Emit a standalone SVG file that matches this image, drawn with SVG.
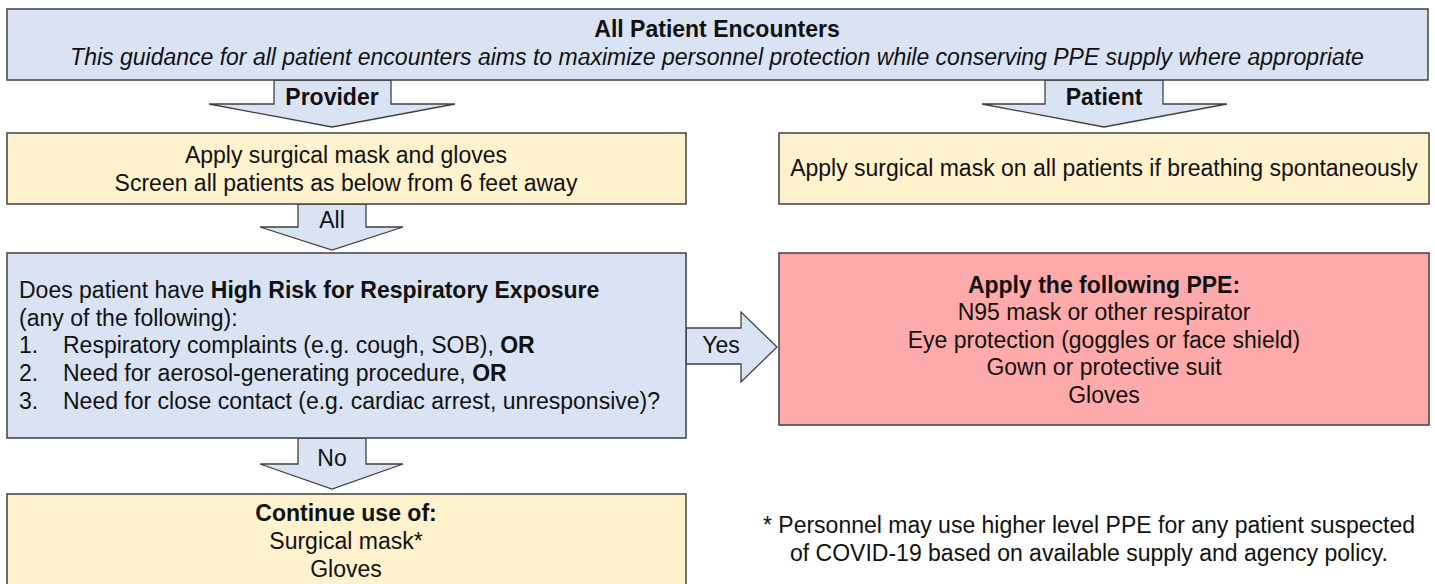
<svg xmlns="http://www.w3.org/2000/svg" width="1435" height="584" viewBox="0 0 1435 584">
<style>
.box{stroke:#404040;stroke-width:1.5}
.blue{fill:#dae3f3}
.yel{fill:#fff2cc}
.red{fill:#ffaaaa}
.arr{fill:#dae3f3;stroke:#404040;stroke-width:1.3;stroke-linejoin:miter}
text{font-family:"Liberation Sans",Arial,sans-serif;font-size:23px;fill:#111}
.c{text-anchor:middle}
.b{font-weight:bold}
.i{font-style:italic}
</style>
<rect width="1435" height="584" fill="#ffffff"/>
<g id="connectors">
<polygon class="arr" points="274,80 391,80 391,104 455,104 332,127 209,104 274,104"/>
<polygon class="arr" points="1045,80 1163,80 1163,104 1227,104 1104,127 982,104 1045,104"/>
<polygon class="arr" points="298,204 366,204 366,227 403,227 332,250 260,227 298,227"/>
<polygon class="arr" points="686,328 741,328 741,312 777,347 741,382 741,364 686,364"/>
<polygon class="arr" points="298,438 366,438 366,464 403,464 332,489 260,464 298,464"/>
<text class="c b" x="332" y="105">Provider</text>
<text class="c b" x="1104" y="105">Patient</text>
<text class="c" x="332" y="228">All</text>
<text class="c" x="721" y="353">Yes</text>
<text class="c" x="332" y="466">No</text>
</g>
<g id="top">
<rect class="box blue" x="7" y="9" width="1421" height="71"/>
<text class="c b" x="717" y="37">All Patient Encounters</text>
<text class="c i" x="717" y="65">This guidance for all patient encounters aims to maximize personnel protection while conserving PPE supply where appropriate</text>
</g>
<g id="provider">
<rect class="box yel" x="7" y="133" width="679" height="71"/>
<text class="c" x="346" y="163">Apply surgical mask and gloves</text>
<text class="c" x="346" y="191">Screen all patients as below from 6 feet away</text>
</g>
<g id="patient">
<rect class="box yel" x="779" y="133" width="650" height="71"/>
<text class="c" x="1104" y="176">Apply surgical mask on all patients if breathing spontaneously</text>
</g>
<g id="question">
<rect class="box blue" x="7" y="253" width="679" height="185"/>
<text x="19" y="298">Does patient have <tspan class="b">High Risk for Respiratory Exposure</tspan></text>
<text x="19" y="326">(any of the following):</text>
<text x="19" y="353">1.</text>
<text x="63" y="353">Respiratory complaints (e.g. cough, SOB), <tspan class="b">OR</tspan></text>
<text x="19" y="381">2.</text>
<text x="63" y="381">Need for aerosol-generating procedure, <tspan class="b">OR</tspan></text>
<text x="19" y="409">3.</text>
<text x="63" y="409">Need for close contact (e.g. cardiac arrest, unresponsive)?</text>
</g>
<g id="ppe">
<rect class="box red" x="779" y="253" width="650" height="172"/>
<text class="c b" x="1104" y="293">Apply the following PPE:</text>
<text class="c" x="1104" y="320">N95 mask or other respirator</text>
<text class="c" x="1104" y="348">Eye protection (goggles or face shield)</text>
<text class="c" x="1104" y="375">Gown or protective suit</text>
<text class="c" x="1104" y="403">Gloves</text>
</g>
<g id="continue">
<rect class="box yel" x="7" y="494" width="679" height="100"/>
<text class="c b" x="346" y="521">Continue use of:</text>
<text class="c" x="346" y="549">Surgical mask*</text>
<text class="c" x="346" y="577">Gloves</text>
</g>
<g id="footnote">
<text class="c" x="1089" y="533">* Personnel may use higher level PPE for any patient suspected</text>
<text class="c" x="1089" y="561">of COVID-19 based on available supply and agency policy.</text>
</g>
</svg>
